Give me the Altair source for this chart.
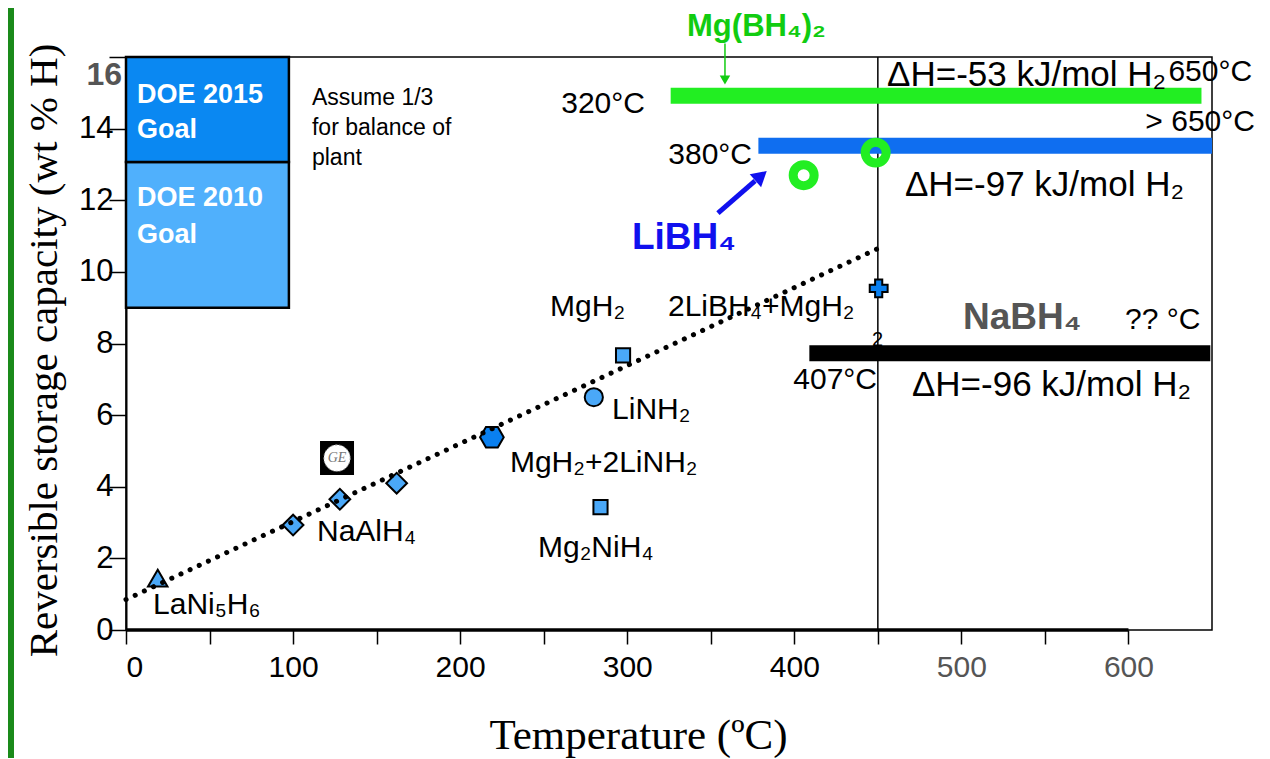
import altair as alt
import pandas as pd

# ---------------- data ----------------
# measured materials (temperature degC, reversible capacity wt% H)
pt_name = ["LaNi5H6", "NaAlH4 (a)", "NaAlH4 (b)", "NaAlH4 (c)", "MgH2+2LiNH2",
           "LiNH2", "MgH2", "Mg2NiH4", "2LiBH4+MgH2"]
pt_temp = [19, 100, 128, 162, 219, 280, 297.5, 284, 450.5]
pt_wt = [1.45, 2.93, 3.65, 4.1, 5.38, 6.5, 7.67, 3.43, 9.54]
pt_kind = ["tri", "dia", "dia", "dia", "hex", "cir", "sq", "sq", "cross"]

# dotted trend line
trend_temp = [0, 450]
trend_wt = [0.85, 10.65]

# borohydride ranges (start temp, end temp, capacity)
bar_name = ["Mg(BH4)2", "LiBH4", "NaBH4"]
bar_start = [326, 378.5, 409]
bar_end = [643.7, 650, 649]
bar_wt = [14.92, 13.52, 7.73]

# LiBH4 rings
ring_temp = [405.6, 448.7]
ring_wt = [12.7, 13.33]

# DOE goal boxes
goal_name = ["DOE 2010", "DOE 2015"]
goal_lo = [9.0, 13.07]
goal_hi = [13.07, 16.0]
goal_t0 = [0, 0]
goal_t1 = [97.5, 97.5]

# GE logo position
ge_temp = [126.3]
ge_wt = [4.8]

# annotations: text, temperature, capacity, style
ann_text = ["ΔH=-53 kJ/mol H₂", "ΔH=-97 kJ/mol H₂", "ΔH=-96 kJ/mol H₂",
            "MgH₂", "2LiBH₄+MgH₂", "?? °C", "LiNH₂", "MgH₂+2LiNH₂", "NaAlH₄", "Mg₂NiH₄",
            "LaNi₅H₆",
            "320°C", "650°C", "> 650°C", "380°C", "407°C",
            "Assume 1/3", "for balance of", "plant",
            "DOE 2015", "Goal", "DOE 2010", "Goal",
            "Mg(BH₄)₂", "LiBH₄", "NaBH₄", "16", "2"]
ann_temp = [455.5, 466.2, 470.4,
            253.8, 324.4, 598.0, 290.9, 229.8, 114.3, 246.6,
            16.2,
            310.6, 674.0, 675.7, 374.7, 449.5,
            111.3, 111.3, 111.3,
            6.6, 6.6, 6.6, 6.6,
            335.8, 302.8, 501.0, -2.4, 446.5]
ann_wt = [15.5, 12.43, 6.84,
          9.02, 9.02, 8.66, 6.14, 4.66, 2.74, 2.29,
          0.70,
          14.69, 15.58, 14.19, 13.26, 6.98,
          14.86, 14.02, 13.18,
          14.94, 13.96, 12.06, 11.03,
          16.83, 10.95, 8.71, 15.5, 8.1]
ann_style = ["dh"] * 3 + ["left"] * 8 + ["right"] * 5 + ["note"] * 3 + ["doe"] * 4 + \
            ["mgbh", "libh", "nabh", "t16", "stray"]

# arrows
blue_arrow_temp = [354.3, 376.5]
blue_arrow_wt = [11.64, 12.54]
blue_head = (380.1, 12.68)
green_arrow_temp = [358.5, 358.5]
green_arrow_wt = [16.38, 15.41]
green_head = (358.5, 15.36)

# ---------------- build chart ----------------
SANS = "Liberation Sans"
SERIF = "Liberation Serif"
LIGHT = "#4aa8f8"
DARK = "#0a80f0"
HEX = "M-1,0L-0.5,-0.866L0.5,-0.866L1,0L0.5,0.866L-0.5,0.866Z"

xs = alt.Scale(domain=[0, 650], nice=False, zero=False)
ys = alt.Scale(domain=[0, 16], nice=False, zero=False)

x_axis = alt.Axis(
    values=list(range(0, 601, 50)),
    labelExpr="datum.value % 100 == 0 ? datum.label : ''",
    domain=False, grid=False,
    tickSize=14, tickWidth=1.5, tickColor="black",
    labelFont=SANS, labelFontSize=30, labelPadding=8,
    labelColor={"condition": {"test": "datum.value >= 500", "value": "#555555"}, "value": "black"},
    title="Temperature (ºC)", titleFont=SERIF, titleFontSize=43, titleFontWeight="normal",
    titleColor="black", titleX=512, titleY=105, titleBaseline="middle", titleAlign="center",
)
y_axis = alt.Axis(
    values=list(range(0, 17, 2)),
    labelExpr="datum.value == 16 ? '' : datum.label",
    domain=True, domainColor="black", domainWidth=2, grid=False,
    tickSize=17, tickWidth=1.5, tickColor="black",
    labelFont=SANS, labelFontSize=31, labelPadding=-4, labelColor="black",
    title="Reversible storage capacity (wt % H)", titleFont=SERIF, titleFontSize=41,
    titleFontWeight="normal", titleColor="black", titleAngle=-90,
    titleX=-82, titleY=293, titleBaseline="middle", titleAlign="center",
)

X = lambda f: alt.X(f, type="quantitative", scale=xs, axis=x_axis)
Y = lambda f: alt.Y(f, type="quantitative", scale=ys, axis=y_axis)

goal_color = {"DOE 2010": "#50b0fc", "DOE 2015": "#0a88f2"}
goals = pd.DataFrame({"name": goal_name, "lo": goal_lo, "hi": goal_hi, "t0": goal_t0, "t1": goal_t1})
goals["col"] = goals["name"].map(goal_color)
goal_layer = alt.Chart(goals).mark_rect(stroke="black", strokeWidth=2.5).encode(
    x=X("t0"), x2="t1", y=Y("lo"), y2="hi",
    fill=alt.Fill("col:N", scale=None),
)

vline = alt.Chart(pd.DataFrame({"t": [450], "a": [0], "b": [16]})).mark_rule(
    color="black", strokeWidth=1.5).encode(x=X("t"), y=Y("a"), y2="b")

baseline = alt.Chart(pd.DataFrame({"a": [0], "b": [600], "w": [0]})).mark_rule(
    color="black", strokeWidth=3.5).encode(x=X("a"), x2="b", y=Y("w"))

bar_color = {"Mg(BH4)2": "#22ee22", "LiBH4": "#0f6ef0", "NaBH4": "#000000"}
bars = pd.DataFrame({"name": bar_name, "s": bar_start, "e": bar_end, "w": bar_wt})
bars["col"] = bars["name"].map(bar_color)
bar_layer = alt.Chart(bars).mark_rule(strokeWidth=16, strokeCap="butt").encode(
    x=X("s"), x2="e", y=Y("w"),
    stroke=alt.Stroke("col:N", scale=None),
)

rings = pd.DataFrame({"t": ring_temp, "w": ring_wt})
ring_layer = alt.Chart(rings).mark_point(filled=False, shape="circle", size=440, strokeWidth=9,
                                         color="#22ee22", opacity=1).encode(x=X("t"), y=Y("w"))

ge = pd.DataFrame({"t": ge_temp, "w": ge_wt, "lab": ["GE"]})
ge_sq = alt.Chart(ge).mark_point(shape="square", filled=True, size=1156, color="black", opacity=1).encode(
    x=X("t"), y=Y("w"))
ge_ci = alt.Chart(ge).mark_point(shape="circle", filled=True, size=700, color="white", opacity=1,
                                 stroke="#888888", strokeWidth=1, strokeDash=[2, 2]).encode(x=X("t"), y=Y("w"))
ge_tx = alt.Chart(ge).mark_text(font=SERIF, fontStyle="italic", fontSize=14, color="#777777").encode(
    x=X("t"), y=Y("w"), text="lab:N")

kind_shape = {"tri": "triangle-up", "dia": "diamond", "hex": HEX, "cir": "circle",
              "sq": "square", "cross": "cross"}
kind_size = {"tri": 380, "dia": 430, "hex": 560, "cir": 330, "sq": 200, "cross": 320}
kind_fill = {"tri": LIGHT, "dia": LIGHT, "hex": DARK, "cir": LIGHT, "sq": LIGHT, "cross": DARK}
pts = pd.DataFrame({"name": pt_name, "t": pt_temp, "w": pt_wt, "kind": pt_kind})
pts["shp"] = pts["kind"].map(kind_shape)
pts["sz"] = pts["kind"].map(kind_size)
pts["fc"] = pts["kind"].map(kind_fill)
pt_layer = alt.Chart(pts).mark_point(filled=True, stroke="black", strokeWidth=2, opacity=1).encode(
    x=X("t"), y=Y("w"),
    shape=alt.Shape("shp:N", scale=None),
    size=alt.Size("sz:Q", scale=None),
    fill=alt.Fill("fc:N", scale=None),
)

trend = pd.DataFrame({"t": trend_temp, "w": trend_wt})
trend_layer = alt.Chart(trend).mark_line(color="black", strokeWidth=5, strokeCap="round",
                                         strokeDash=[0.1, 10]).encode(x=X("t"), y=Y("w"))

barrow = pd.DataFrame({"t": blue_arrow_temp, "w": blue_arrow_wt})
barrow_line = alt.Chart(barrow).mark_line(color="#1010ee", strokeWidth=5).encode(x=X("t"), y=Y("w"))
barrow_head = alt.Chart(pd.DataFrame({"t": [blue_head[0]], "w": [blue_head[1]]})).mark_point(
    shape="triangle-up", filled=True, size=300, angle=49, color="#1010ee", opacity=1).encode(x=X("t"), y=Y("w"))

garrow = pd.DataFrame({"t": green_arrow_temp, "w": green_arrow_wt})
garrow_line = alt.Chart(garrow).mark_line(color="#11cc11", strokeWidth=1.5).encode(x=X("t"), y=Y("w"))
garrow_head = alt.Chart(pd.DataFrame({"t": [green_head[0]], "w": [green_head[1]]})).mark_point(
    shape="triangle-down", filled=True, size=110, color="#11cc11", opacity=1).encode(x=X("t"), y=Y("w"))

ann = pd.DataFrame({"text": ann_text, "t": ann_temp, "w": ann_wt, "style": ann_style})


def text_layer(style, **kw):
    base = dict(font=SANS, baseline="middle", align="left", fontSize=30, color="black")
    base.update(kw)
    return alt.Chart(ann).transform_filter(alt.datum.style == style).mark_text(**base).encode(
        x=X("t"), y=Y("w"), text="text:N")


texts = [
    text_layer("dh", fontSize=35),
    text_layer("left"),
    text_layer("right", align="right"),
    text_layer("note", fontSize=23),
    text_layer("doe", fontSize=27, fontWeight="bold", color="white"),
    text_layer("mgbh", fontSize=31, fontWeight="bold", color="#11cc11"),
    text_layer("libh", fontSize=37, fontWeight="bold", color="#1010ee"),
    text_layer("nabh", fontSize=37, fontWeight="bold", color="#555555"),
    text_layer("t16", fontSize=32, fontWeight="bold", color="#555555", align="right"),
    text_layer("stray", fontSize=20),
]

side = alt.Chart(pd.DataFrame({"k": [0]})).mark_rule(color="#1a8a1a", strokeWidth=6).encode(
    x=alt.value(-115), y=alt.value(-57), y2=alt.value(702))

chart = alt.layer(
    side, goal_layer, vline, baseline, bar_layer, ring_layer, ge_sq, ge_ci, ge_tx,
    pt_layer, trend_layer, barrow_line, barrow_head, garrow_line, garrow_head, *texts
).properties(
    width=1086, height=573,
    autosize=alt.AutoSizeParams(type="none"),
    padding={"left": 118, "top": 49, "right": 50, "bottom": 128},
    background="white",
).configure_view(stroke="black", strokeWidth=1.5)

chart.save("out.html", embed_options={"renderer": "svg", "actions": False})
